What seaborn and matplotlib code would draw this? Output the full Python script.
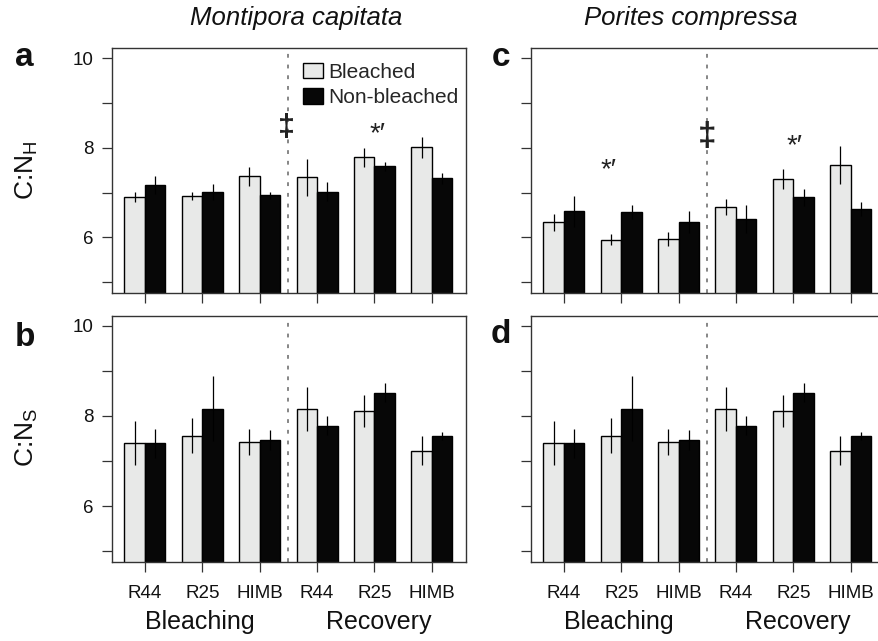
import matplotlib
matplotlib.use("Agg")
import matplotlib.pyplot as plt
import seaborn as sns
import pandas as pd

# Sampling sites within each period
sites = ["R44", "R25", "HIMB", "R44", "R25", "HIMB"]
periods = ["Bleaching"] * 3 + ["Recovery"] * 3
conditions = ["Bleached", "Non-bleached"]

# Montipora capitata, host C:N (means and standard errors)
mcap_h_bleached = [6.90, 6.92, 7.36, 7.34, 7.79, 8.01]
mcap_h_bleached_se = [0.12, 0.085, 0.22, 0.41, 0.21, 0.23]
mcap_h_nonbleached = [7.17, 7.01, 6.94, 7.02, 7.59, 7.32]
mcap_h_nonbleached_se = [0.21, 0.18, 0.08, 0.22, 0.10, 0.12]

# Montipora capitata, symbiont C:N
mcap_s_bleached = [7.40, 7.56, 7.42, 8.15, 8.11, 7.23]
mcap_s_bleached_se = [0.49, 0.39, 0.28, 0.49, 0.35, 0.32]
mcap_s_nonbleached = [7.39, 8.16, 7.47, 7.78, 8.52, 7.56]
mcap_s_nonbleached_se = [0.33, 0.72, 0.22, 0.21, 0.22, 0.09]

# Porites compressa, host C:N
pcom_h_bleached = [6.34, 5.95, 5.96, 6.67, 7.30, 7.62]
pcom_h_bleached_se = [0.19, 0.12, 0.15, 0.18, 0.23, 0.42]
pcom_h_nonbleached = [6.58, 6.56, 6.34, 6.41, 6.89, 6.63]
pcom_h_nonbleached_se = [0.34, 0.16, 0.24, 0.31, 0.19, 0.15]

# Porites compressa, symbiont C:N
pcom_s_bleached = [7.40, 7.56, 7.42, 8.15, 8.11, 7.23]
pcom_s_bleached_se = [0.49, 0.39, 0.28, 0.49, 0.35, 0.32]
pcom_s_nonbleached = [7.39, 8.16, 7.47, 7.78, 8.52, 7.56]
pcom_s_nonbleached_se = [0.33, 0.72, 0.22, 0.21, 0.22, 0.09]

# y ticks (labels only on every other tick)
y_ticks = [5, 6, 7, 8, 9, 10]
y_tick_labels = ["", "6", "", "8", "", "10"]

sns.set_theme(style="ticks")
plt.rcParams["font.family"] = ["Liberation Sans", "DejaVu Sans"]
plt.rcParams["mathtext.fontset"] = "custom"
plt.rcParams["mathtext.rm"] = "Liberation Sans"
plt.rcParams["mathtext.it"] = "Liberation Sans:italic"
plt.rcParams["mathtext.bf"] = "Liberation Sans:bold"

LIGHT = "#e8e9e8"
DARK = "#070707"
AXCOL = "#333333"
TXT = "#111111"

W, H = 879, 641
fig = plt.figure(figsize=(W / 100, H / 100), dpi=100)
fig.patch.set_facecolor("white")


def add_axes_px(left, top, right, bottom):
    return fig.add_axes([left / W, 1 - bottom / H, (right - left) / W, (bottom - top) / H])


def draw_panel(ax, bleached, bleached_se, nonbleached, nonbleached_se,
               left_labels, bottom_labels, show_legend, right_spine):
    groups = [f"{p} {s}" for p, s in zip(periods, sites)]
    df = pd.DataFrame({
        "group": groups * 2,
        "condition": [conditions[0]] * 6 + [conditions[1]] * 6,
        "value": list(bleached) + list(nonbleached),
    })
    sns.barplot(data=df, x="group", y="value", hue="condition", order=groups,
                hue_order=conditions, palette=[LIGHT, DARK], width=0.714,
                edgecolor="black", linewidth=1.0, errorbar=None, ax=ax,
                legend=show_legend, zorder=2)
    bar_sets = list(ax.containers)[:2]
    for cont, se in zip(bar_sets, [bleached_se, nonbleached_se]):
        xs = [b.get_x() + b.get_width() / 2 for b in cont]
        ys = [b.get_height() for b in cont]
        ax.errorbar(xs, ys, yerr=se, fmt="none", ecolor="black",
                    elinewidth=0.9, capsize=0, zorder=3)

    ax.axvline(2.5, color="#666666", lw=1.1, ls=(0, (2.5, 4.5)), zorder=1)
    ax.set_xlim(-0.58, 5.6)
    ax.set_ylim(4.75, 10.22)
    ax.set_yticks(y_ticks)
    ax.set_yticklabels(y_tick_labels if left_labels else [""] * len(y_ticks))
    ax.set_xticks(range(6))
    ax.set_xticklabels(sites if bottom_labels else [""] * 6)
    ax.set_xlabel("")
    ax.set_ylabel("")
    ax.tick_params(axis="both", direction="out", length=7, width=0.9,
                   color=AXCOL, labelsize=13.5, labelcolor=TXT)
    ax.tick_params(axis="y", pad=6)
    ax.tick_params(axis="x", pad=9)
    for name, sp in ax.spines.items():
        sp.set_visible(True)
        sp.set_color(AXCOL)
        sp.set_linewidth(1.0)
    if not right_spine:
        ax.spines["right"].set_visible(False)
    if bottom_labels:
        tr = ax.get_xaxis_transform()
        ax.text(0.95, -0.27, "Bleaching", transform=tr, ha="center",
                va="baseline", fontsize=18, color=TXT)
        ax.text(4.07, -0.27, "Recovery", transform=tr, ha="center",
                va="baseline", fontsize=18, color=TXT)
    if show_legend:
        sns.move_legend(ax, "upper left", bbox_to_anchor=(0.54, 0.94),
                        title=None, frameon=False, fontsize=15,
                        handlelength=0.95, handleheight=0.75,
                        handletextpad=0.25, labelspacing=0.3,
                        borderpad=0, borderaxespad=0)


ax_a = add_axes_px(111.7, 48.3, 466.2, 293.3)
ax_b = add_axes_px(111.7, 316.0, 466.2, 562.3)
ax_c = add_axes_px(530.7, 48.3, 885.0, 293.3)
ax_d = add_axes_px(530.7, 316.0, 885.0, 562.3)

draw_panel(ax_a, mcap_h_bleached, mcap_h_bleached_se, mcap_h_nonbleached,
           mcap_h_nonbleached_se, True, False, True, True)
draw_panel(ax_b, mcap_s_bleached, mcap_s_bleached_se, mcap_s_nonbleached,
           mcap_s_nonbleached_se, True, True, False, True)
draw_panel(ax_c, pcom_h_bleached, pcom_h_bleached_se, pcom_h_nonbleached,
           pcom_h_nonbleached_se, False, False, False, False)
draw_panel(ax_d, pcom_s_bleached, pcom_s_bleached_se, pcom_s_nonbleached,
           pcom_s_nonbleached_se, False, True, False, False)

# Significance markers
mark = dict(ha="center", va="center", color="#222222")
ax_a.text(2.47, 8.43, "\u2021", fontsize=22, fontweight="bold", **mark)
ax_a.text(4.06, 8.30, "*\u2032", fontsize=20, **mark)
ax_c.text(2.49, 8.26, "\u2021", fontsize=24, fontweight="bold", **mark)
ax_c.text(0.78, 7.50, "*\u2032", fontsize=20, **mark)
ax_c.text(4.03, 8.04, "*\u2032", fontsize=20, **mark)

# Species titles
fig.text(190 / W, 1 - 25 / H, "Montipora capitata", ha="left", va="baseline",
         fontsize=18.5, style="italic", color=TXT)
fig.text(584 / W, 1 - 25 / H, "Porites compressa", ha="left", va="baseline",
         fontsize=18.5, style="italic", color=TXT)

# y axis labels
fig.text(27 / W, 1 - 170 / H, r"C:N$_\mathregular{H}$", rotation=90, ha="center",
         va="center", fontsize=19, color=TXT)
fig.text(27 / W, 1 - 437 / H, r"C:N$_\mathregular{S}$", rotation=90, ha="center",
         va="center", fontsize=19, color=TXT)

# Panel letters
for letter, x, y in [("a", 15, 66.5), ("b", 15, 346), ("c", 492, 66.5), ("d", 491, 343)]:
    fig.text(x / W, 1 - y / H, letter, ha="left", va="baseline", fontsize=24,
             fontweight="bold", color=TXT)

fig.savefig("out.png", dpi=100)
